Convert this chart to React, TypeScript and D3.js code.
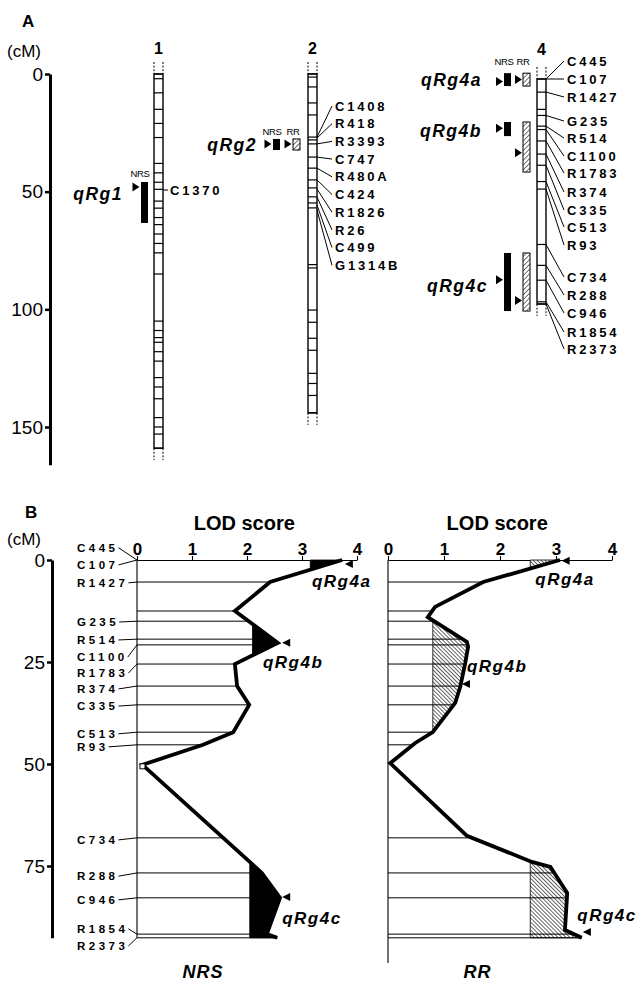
import React, { useEffect, useRef } from "react"
import * as d3 from "d3"

const WIDTH = 637
const HEIGHT = 984
const FONT = "'Liberation Sans', Arial, Helvetica, sans-serif"

// ---------- panel A : linkage maps (cM) ----------
const A_TICKS = [0, 50, 100, 150]
const A_AXIS_END = 166

const CHR1_LINES = [0, 2, 8, 15, 21, 27, 38, 42, 46, 49, 54, 57, 61, 64, 68, 72, 76, 85, 105, 109, 112, 114, 118, 122, 129, 133, 138, 146, 150, 153, 159]
const CHR1_MARKERS = ["C1370"]
const CHR1_MARKER_CM = [49.3]

const CHR2_LINES = [0, 1.3, 5.5, 12.3, 17.4, 26.8, 28, 29.7, 35.3, 40, 45, 48.4, 52.2, 54.8, 56.9, 81, 82.4, 100.3, 105.5, 112.3, 117.4, 127.2, 131.5, 136.6, 144]
const CHR2_MARKERS = ["C1408", "R418", "R3393", "C747", "R480A", "C424", "R1826", "R26", "C499", "G1314B"]
const CHR2_MARKER_CM = [26.8, 27.2, 29.7, 35.3, 40, 45, 48.9, 52.3, 55.7, 57.8]

// chromosome 4 markers (used in A and B)
const CHR4_MARKERS = ["C445", "C107", "R1427", "", "G235", "R514", "C1100", "R1783", "R374", "C335", "C513", "R93", "C734", "R288", "C946", "R1854", "R2373"]
const CHR4_CM = [0, 0, 5.4, 12.5, 15, 19.4, 20.8, 25.5, 30.9, 35.5, 42.2, 45.3, 68.1, 76.7, 82.8, 91.7, 92.6]
const CHR4_END = 92.6
// where the names sit (cM), panel A and panel B
const CHR4_LABEL_A = [-7.4, 0, 7.4, null, 17.3, 24.3, 31.7, 38.7, 46.5, 53.9, 60.9, 68.3, 81.5, 88.9, 96.3, 104.1, 111.1]
const CHR4_LABEL_B = [-3, 1.2, 5.6, null, 15.2, 19.6, 23.8, 27.7, 31.6, 35.8, 42.6, 45.8, 68.6, 77.5, 83.3, 90.4, 94.6]

// QTL on chr1 and chr2
const QRG1_NRS = [45.9, 63.3]
const QRG1_PEAK = 48
const QRG2_NRS = [27.6, 32.3]
const QRG2_RR = [27.6, 32.3]
const QRG2_PEAK = 29.7

// QTL on chr4
const Q4_NAMES = ["qRg4a", "qRg4b", "qRg4c"]
const Q4_NRS_INTERVAL = [[-2.4, 2.9], [17.7, 23.5], [71.6, 95.5]]
const Q4_RR_INTERVAL = [[-2.4, 2.9], [17.7, 38.3], [71.6, 95.5]]
const Q4_NRS_PEAK_CM = [1, 20.3, 82.6]
const Q4_RR_PEAK_CM = [0.2, 30.4, 91.2]
const Q4_NRS_PEAK_LOD = [3.78, 2.64, 2.64]
const Q4_RR_PEAK_LOD = [3.1, 1.32, 3.48]
const Q4_NRS_SUPPORT = [3.15, 2.1, 2.05]
const Q4_RR_SUPPORT = [2.54, 0.8, 2.54]
const Q4_WINDOW = [[0, 10], [13, 45], [55, 95]]
const Q4_NRS_LABEL = [[3.18, 6.6], [2.29, 26.5], [2.64, 89.2]] // [LOD, cM]
const Q4_RR_LABEL = [[2.63, 6.1], [1.41, 27.5], [3.38, 88.5]]

// ---------- panel B : LOD profiles along chr4 ----------
const B_TICKS = [0, 25, 50, 75]
const LOD_TICKS = [0, 1, 2, 3, 4]
const NRS_CM = [0, 5.4, 12.5, 20.3, 25.5, 30.9, 35.5, 42.2, 45.3, 50.2, 74, 76.7, 82.8, 91.7, 92.6]
const NRS_LOD = [3.73, 2.42, 1.78, 2.56, 1.78, 1.82, 2.04, 1.75, 1.2, 0.1, 2.05, 2.27, 2.6, 2.36, 2.55]
const RR_CM = [0, 5.4, 11.5, 14, 20.1, 21.3, 25.2, 31.1, 35, 42.2, 44.9, 49.8, 67.6, 74, 75.2, 81.6, 90.7, 92.6]
const RR_LOD = [3.07, 1.7, 0.84, 0.71, 1.41, 1.43, 1.38, 1.29, 1.2, 0.8, 0.48, 0.04, 1.41, 2.57, 2.9, 3.2, 3.16, 3.46]

const CHR_W = 9

const interp = (cms, lods, c) => {
	const i = d3.bisectRight(cms, c)
	if (i <= 0) return lods[0]
	if (i >= cms.length) return lods[lods.length - 1]
	const t = (c - cms[i - 1]) / (cms[i] - cms[i - 1])
	return lods[i - 1] + t * (lods[i] - lods[i - 1])
}

// curve part above a support level, inside a cM window
const supportRegion = (cms, lods, thr, lo, hi) => {
	const pts = []
	for (let i = 0; i < cms.length; i++) {
		if (i > 0) {
			const l0 = lods[i - 1], l1 = lods[i]
			if ((l0 - thr) * (l1 - thr) < 0) {
				const t = (thr - l0) / (l1 - l0)
				pts.push([cms[i - 1] + t * (cms[i] - cms[i - 1]), thr])
			}
		}
		pts.push([cms[i], lods[i]])
	}
	const inside = pts.filter((p) => p[0] >= lo && p[0] <= hi)
	let a = 0, b = inside.length - 1
	while (a < b && inside[a][1] < thr) a++
	while (b > a && inside[b][1] < thr) b--
	return inside.slice(a, b + 1)
}

const App = () => {
	const svgRef = useRef(null)

	useEffect(() => {
		const svg = d3.select(svgRef.current)
		svg.selectAll("*").remove()
		svg.append("rect").attr("width", WIDTH).attr("height", HEIGHT).attr("fill", "#fff")

		const defs = svg.append("defs")
		const hatch = (id, angle, step, sw) => {
			const p = defs.append("pattern").attr("id", id)
				.attr("patternUnits", "userSpaceOnUse")
				.attr("width", step).attr("height", step)
				.attr("patternTransform", `rotate(${angle})`)
			p.append("rect").attr("width", step).attr("height", step).attr("fill", "#fff")
			p.append("line").attr("x1", 0).attr("y1", 0).attr("x2", 0).attr("y2", step)
				.attr("stroke", "#000").attr("stroke-width", sw)
		}
		hatch("hatchA", 45, 3.4, 1.1)
		hatch("hatchB", -45, 2.8, 1.2)

		const text = (g, x, y, s, size, o: any = {}) => {
			const t = g.append("text").attr("x", x).attr("y", y).text(s)
				.attr("font-family", FONT).attr("font-size", size)
				.attr("font-weight", o.bold ? "bold" : "normal")
				.attr("font-style", o.italic ? "italic" : "normal")
				.attr("text-anchor", o.anchor || "start")
				.attr("fill", "#000")
			if (o.spacing != null) t.attr("letter-spacing", o.spacing)
			if (o.dy) t.attr("dy", o.dy)
			return t
		}
		const line = (g, x1, y1, x2, y2, w = 1) =>
			g.append("line").attr("x1", x1).attr("y1", y1).attr("x2", x2).attr("y2", y2)
				.attr("stroke", "#000").attr("stroke-width", w)
		const triRight = (g, x, y) =>
			g.append("path").attr("d", `M${x - 7},${y - 4.5}L${x},${y}L${x - 7},${y + 4.5}Z`).attr("fill", "#000")
		const triLeft = (g, x, y) =>
			g.append("path").attr("d", `M${x},${y}L${x + 8},${y - 4}L${x + 8},${y + 4}Z`).attr("fill", "#000")

		const styleCmAxis = (g) => {
			g.attr("font-family", FONT).attr("font-size", 19)
			g.select(".domain").attr("stroke-width", 3)
			g.selectAll(".tick line").attr("stroke-width", 2.5)
			g.selectAll(".tick text").attr("fill", "#000")
		}

		// =============== panel A ===============
		const gA = svg.append("g")
		const yA = d3.scaleLinear().domain([0, 150]).range([74, 427])
		const yA4 = d3.scaleLinear().domain([0, CHR4_END]).range([79, 304])

		text(gA, 22, 27, "A", 17, { bold: true })
		text(gA, 7, 57, "(cM)", 17)
		const axA = d3.scaleLinear().domain([0, A_AXIS_END]).range([yA(0), yA(A_AXIS_END)])
		gA.append("g").attr("transform", "translate(50,0)")
			.call(d3.axisLeft(axA).tickValues(A_TICKS).tickSize(5).tickSizeOuter(0).tickPadding(2))
			.call(styleCmAxis)

		const drawChr = (x, top, bottom, ys) => {
			const g = gA.append("g")
			;[x, x + CHR_W].forEach((xx) => {
				line(g, xx, top - 12, xx, top, 1).attr("stroke-dasharray", "2,1.6")
				line(g, xx, bottom, xx, bottom + 12, 1).attr("stroke-dasharray", "2,1.6")
			})
			g.append("rect").attr("x", x).attr("y", top).attr("width", CHR_W)
				.attr("height", bottom - top).attr("fill", "#fff")
				.attr("stroke", "#000").attr("stroke-width", 1.4)
			ys.forEach((y) => line(g, x, y, x + CHR_W, y, 1.2))
		}

		const C1 = 154, C2 = 308, C4 = 537
		drawChr(C1, yA(0), yA(d3.max(CHR1_LINES)), CHR1_LINES.map(yA))
		drawChr(C2, yA(0), yA(d3.max(CHR2_LINES)), CHR2_LINES.map(yA))
		drawChr(C4, yA4(0), yA4(CHR4_END), Array.from(new Set(CHR4_CM)).map(yA4))
		text(gA, C1 + CHR_W / 2, 54, "1", 16, { bold: true, anchor: "middle" })
		text(gA, C2 + CHR_W / 2, 54, "2", 16, { bold: true, anchor: "middle" })
		text(gA, C4 + CHR_W / 2, 55, "4", 16, { bold: true, anchor: "middle" })

		const mk = { bold: true, spacing: 2.8, dy: "0.36em" }
		// chr1 marker
		CHR1_MARKERS.forEach((m, i) => {
			const y = yA(CHR1_MARKER_CM[i])
			line(gA, C1 + CHR_W, y, C1 + CHR_W + 5, y)
			text(gA, C1 + CHR_W + 7, y, m, 13, mk)
		})
		// chr2 markers
		CHR2_MARKERS.forEach((m, i) => {
			const y = yA(CHR2_MARKER_CM[i])
			const ly = 106 + i * 17.7
			line(gA, C2 + CHR_W, y, 332, ly)
			text(gA, 335, ly, m, 13, mk)
		})
		// chr4 markers
		CHR4_MARKERS.forEach((m, i) => {
			if (!m) return
			const y = yA4(CHR4_CM[i])
			const ly = yA4(CHR4_LABEL_A[i])
			line(gA, C4 + CHR_W, y, 564, ly)
			text(gA, 567, ly, m, 13, mk)
		})

		// QTL bars
		const bar = (x, sc, iv, fill) =>
			gA.append("rect").attr("x", x).attr("y", sc(iv[0])).attr("width", 7)
				.attr("height", sc(iv[1]) - sc(iv[0])).attr("fill", fill)
				.attr("stroke", "#000").attr("stroke-width", fill === "#000" ? 0 : 1)
		const small = { anchor: "middle", spacing: -0.3 }
		const qLab = { bold: true, italic: true, spacing: 1.5, anchor: "end" }

		// qRg1
		bar(141, yA, QRG1_NRS, "#000")
		triRight(gA, 139.5, yA(QRG1_PEAK))
		text(gA, 140, yA(QRG1_NRS[0]) - 5, "NRS", 9.5, small)
		text(gA, 123, yA(53.5), "qRg1", 17.5, qLab)

		// qRg2
		bar(273, yA, QRG2_NRS, "#000")
		bar(293, yA, QRG2_RR, "url(#hatchA)")
		triRight(gA, 271.5, yA(QRG2_PEAK))
		triRight(gA, 291.5, yA(QRG2_PEAK))
		text(gA, 272, yA(QRG2_NRS[0]) - 4, "NRS", 9.5, small)
		text(gA, 293, yA(QRG2_NRS[0]) - 4, "RR", 9.5, small)
		text(gA, 257, yA(32.7), "qRg2", 17.5, qLab)

		// chr4 QTL
		text(gA, 504, 65, "NRS", 9.5, small)
		text(gA, 523, 65, "RR", 9.5, small)
		const q4LabelRight = [482, 482, 488]
		const q4LabelCm = [2.9, 23.9, 87.7]
		Q4_NAMES.forEach((n, i) => {
			bar(504, yA4, Q4_NRS_INTERVAL[i], "#000")
			bar(523, yA4, Q4_RR_INTERVAL[i], "url(#hatchA)")
			triRight(gA, 503, yA4(Q4_NRS_PEAK_CM[i]))
			triRight(gA, 522, yA4(Q4_RR_PEAK_CM[i]))
			text(gA, q4LabelRight[i], yA4(q4LabelCm[i]), n, 17.5, qLab)
		})

		// =============== panel B ===============
		const gB = svg.append("g")
		const yB = d3.scaleLinear().domain([0, 75]).range([560, 866])
		const xN = d3.scaleLinear().domain([0, 4]).range([137, 357])
		const xR = d3.scaleLinear().domain([0, 4]).range([388, 612])

		text(gB, 25, 518, "B", 17, { bold: true })
		text(gB, 7, 545, "(cM)", 17)
		const axB = d3.scaleLinear().domain([0, CHR4_END]).range([yB(0), yB(CHR4_END)])
		gB.append("g").attr("transform", "translate(52,0)")
			.call(d3.axisLeft(axB).tickValues(B_TICKS).tickSize(5).tickSizeOuter(0).tickPadding(2))
			.call(styleCmAxis)

		const plots = [
			{ x: xN, cms: NRS_CM, lods: NRS_LOD, support: Q4_NRS_SUPPORT, peakCm: Q4_NRS_PEAK_CM, peakLod: Q4_NRS_PEAK_LOD, label: Q4_NRS_LABEL, fill: "#000", zeroEnd: CHR4_END, title: "NRS", titleLod: 1.2, square: true },
			{ x: xR, cms: RR_CM, lods: RR_LOD, support: Q4_RR_SUPPORT, peakCm: Q4_RR_PEAK_CM, peakLod: Q4_RR_PEAK_LOD, label: Q4_RR_LABEL, fill: "url(#hatchB)", zeroEnd: 98.8, title: "RR", titleLod: 1.6, square: false },
		]

		plots.forEach((p) => {
			const g = gB.append("g")
			const xS = p.x
			text(g, xS(1.95), 530, "LOD score", 20, { bold: true, anchor: "middle" })
			const ax = g.append("g").attr("transform", `translate(0,${yB(0)})`)
				.call(d3.axisTop(xS).tickValues(LOD_TICKS).tickFormat(d3.format("d")).tickSize(4).tickSizeOuter(0).tickPadding(1))
			ax.attr("font-family", FONT).attr("font-size", 17).attr("font-weight", "bold")
			ax.select(".domain").attr("stroke-width", 1.1)
			ax.selectAll(".tick line").attr("stroke-width", 1.1)
			ax.selectAll(".tick text").attr("fill", "#000")
			line(g, xS(0), yB(0), xS(0), yB(p.zeroEnd), 1.1)

			// support regions
			Q4_NAMES.forEach((n, i) => {
				const thr = p.support[i]
				const reg = supportRegion(p.cms, p.lods, thr, Q4_WINDOW[i][0], Q4_WINDOW[i][1])
				const area = d3.area().y((d) => yB(d[0])).x0(xS(thr)).x1((d) => xS(Math.max(d[1], thr)))
				g.append("path").datum(reg).attr("d", area).attr("fill", p.fill)
					.attr("stroke", "#000").attr("stroke-width", 0.8)
			})

			// marker lines
			CHR4_CM.forEach((c) => {
				if (c === 0) return
				line(g, xS(0), yB(c), xS(interp(p.cms, p.lods, c)), yB(c), 1)
			})

			// LOD curve
			const pts = p.cms.map((c, i) => [c, p.lods[i]])
			g.append("path").datum(pts)
				.attr("d", d3.line().x((d) => xS(d[1])).y((d) => yB(d[0])))
				.attr("fill", "none").attr("stroke", "#000").attr("stroke-width", 3.8)
				.attr("stroke-linejoin", "miter").attr("stroke-miterlimit", 3)

			if (p.square) {
				const k = d3.minIndex(p.lods)
				g.append("rect").attr("x", xS(p.lods[k]) - 2.5).attr("y", yB(p.cms[k]) - 1)
					.attr("width", 5).attr("height", 5).attr("fill", "#fff")
					.attr("stroke", "#000").attr("stroke-width", 1)
			}

			// QTL arrows + names
			Q4_NAMES.forEach((n, i) => {
				triLeft(g, xS(p.peakLod[i]), yB(p.peakCm[i]))
				text(g, xS(p.label[i][0]), yB(p.label[i][1]), n, 17, { bold: true, italic: true, spacing: 1.5 })
			})

			text(g, xS(p.titleLod), 978, p.title, 18, { bold: true, italic: true, spacing: 1, anchor: "middle" })
		})

		// marker names on the NRS side
		CHR4_MARKERS.forEach((m, i) => {
			if (!m) return
			const ly = yB(CHR4_LABEL_B[i])
			const t = text(gB, 77, ly, m, 11.5, { bold: true, spacing: 3.5, dy: "0.36em" })
			const w = (t.node() as SVGTextElement).getComputedTextLength()
			line(gB, 77 + w, ly, xN(0), yB(CHR4_CM[i]), 1)
		})
	}, [])

	return (
		<svg
			ref={svgRef}
			width={WIDTH}
			height={HEIGHT}
			style={{ position: "absolute", left: 0, top: 0, display: "block" }}
		></svg>
	)
}

export default App
